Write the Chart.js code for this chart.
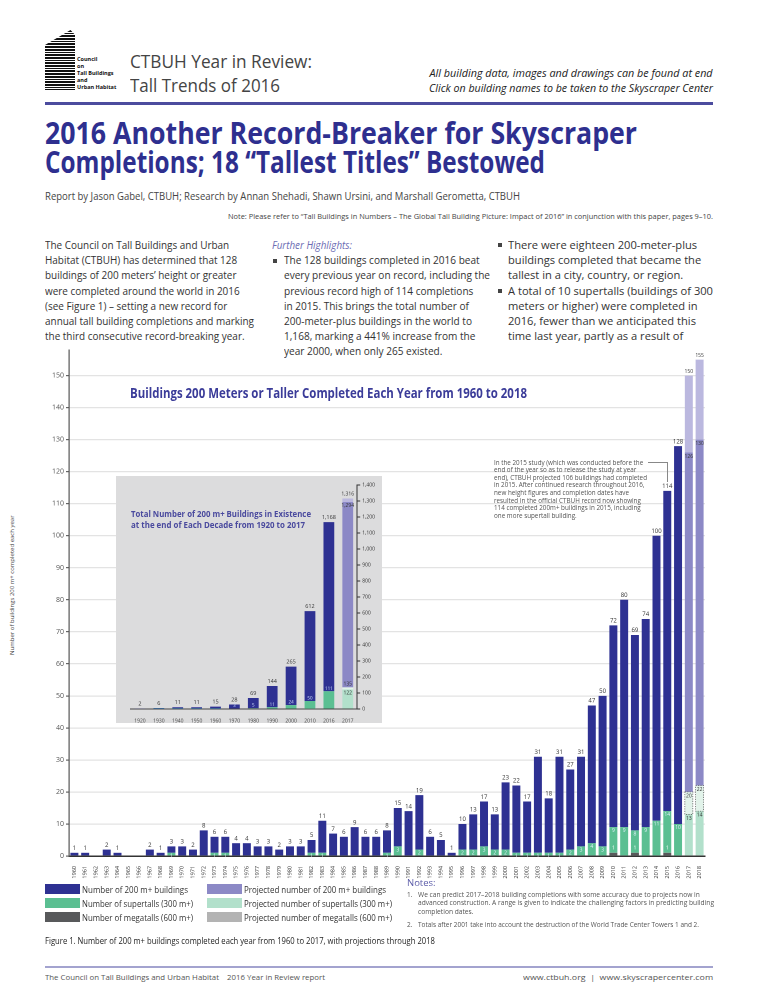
<!DOCTYPE html>
<html>
<head>
<meta charset="utf-8">
<script src="https://cdn.jsdelivr.net/npm/chart.js@4.4.1/dist/chart.umd.min.js"></script>
<style>
body { margin: 0; background: #fff; font-family: "Open Sans", sans-serif; color: #333; }
#page { position: relative; width: 773px; height: 1000px; overflow: hidden; }
.t { position: absolute; white-space: nowrap; line-height: 1; transform-origin: left center; }
.r { transform-origin: right center; }
.blk { position: absolute; white-space: nowrap; transform-origin: left top; }
.bul { position: absolute; width: 4px; height: 4px; background: #444; }
.sw { position: absolute; width: 35px; height: 10px; }
canvas { position: absolute; }
</style>
</head>
<body>
<div id="page">

  <!-- hlavicka -->
  <div id="logo" style="position:absolute;left:45px;top:30px;width:30px;height:60px;background:repeating-linear-gradient(to bottom,#111 0 1.6px,#fff 1.6px 2.7px);clip-path:polygon(0 25%,85% 0,100% 8%,100% 100%,0 100%);"></div>
  <div style="position:absolute;left:77px;top:56px;font-size:5.5px;line-height:7px;font-weight:700;color:#111;">Council<br>on<br>Tall Buildings<br>and<br>Urban Habitat</div>

  <div class="t" style="left:130px;top:52px;font-size:19px;color:#444;" data-w="182">CTBUH Year in Review:</div>
  <div class="t" style="left:130px;top:76px;font-size:19px;color:#444;" data-w="150">Tall Trends of 2016</div>

  <div class="t r" style="right:60px;top:68px;font-size:10.5px;font-style:italic;color:#222;" data-w="283">All building data, images and drawings can be found at end</div>
  <div class="t r" style="right:60px;top:83px;font-size:10.5px;font-style:italic;color:#222;" data-w="284">Click on building names to be taken to the Skyscraper Center</div>

  <div style="position:absolute;left:45px;top:102px;width:668px;height:3px;background:#4c4c9e;"></div>

  <div class="t" style="left:45px;top:117px;font-size:31px;font-weight:700;color:#2e2f8f;" data-w="592">2016 Another Record-Breaker for Skyscraper</div>
  <div class="t" style="left:45px;top:146px;font-size:31px;font-weight:700;color:#2e2f8f;" data-w="500">Completions; 18 “Tallest Titles” Bestowed</div>

  <div class="t" style="left:45px;top:191px;font-size:10px;color:#444;" data-w="475">Report by Jason Gabel, CTBUH; Research by Annan Shehadi, Shawn Ursini, and Marshall Gerometta, CTBUH</div>
  <div class="t" style="left:228px;top:213px;font-size:7.5px;color:#444;" data-w="485">Note: Please refer to “Tall Buildings in Numbers – The Global Tall Building Picture: Impact of 2016” in conjunction with this paper, pages 9–10.</div>

  <!-- sloupce textu -->
  <div class="blk" style="left:45px;top:237px;font-size:11px;line-height:15.2px;color:#333;" data-w="209">
    The Council on Tall Buildings and Urban<br>
    Habitat (CTBUH) has determined that 128<br>
    buildings of 200 meters’ height or greater<br>
    were completed around the world in 2016<br>
    (see Figure 1) – setting a new record for<br>
    annual tall building completions and marking<br>
    the third consecutive record-breaking year.
  </div>

  <div class="t" style="left:272px;top:239px;font-size:11px;font-style:italic;color:#6c6cb3;" data-w="80">Further Highlights:</div>
  <div class="bul" style="left:273px;top:259px;"></div>
  <div class="blk" style="left:284px;top:252.2px;font-size:11px;line-height:15.2px;color:#333;" data-w="206">
    The 128 buildings completed in 2016 beat<br>
    every previous year on record, including the<br>
    previous record high of 114 completions<br>
    in 2015. This brings the total number of<br>
    200-meter-plus buildings in the world to<br>
    1,168, marking a 441% increase from the<br>
    year 2000, when only 265 existed.
  </div>

  <div class="bul" style="left:498px;top:243px;"></div>
  <div class="bul" style="left:498px;top:289px;"></div>
  <div class="blk" style="left:508px;top:237px;font-size:11px;line-height:15.2px;color:#333;" data-w="205">
    There were eighteen 200-meter-plus<br>
    buildings completed that became the<br>
    tallest in a city, country, or region.<br>
    A total of 10 supertalls (buildings of 300<br>
    meters or higher) were completed in<br>
    2016, fewer than we anticipated this<br>
    time last year, partly as a result of
  </div>

  <!-- hlavni graf -->
  <canvas id="mainChart" width="690" height="546" style="left:30px;top:340px;width:690px;height:546px;"></canvas>
  <div class="t" style="left:130px;top:386px;font-size:14px;font-weight:700;color:#3b3c99;" data-w="397">Buildings 200 Meters or Taller Completed Each Year from 1960 to 2018</div>
  <div class="t" style="left:-43px;top:597px;font-size:6px;color:#444;transform:rotate(-90deg);transform-origin:center;width:110px;text-align:center;">Number of buildings 200 m+ completed each year</div>

  <!-- poznamka k roku 2015 -->
  <div class="blk" style="left:494px;top:458.5px;font-size:6.3px;line-height:7.63px;color:#555;" data-w="153">
    In the 2015 study (which was conducted before the<br>
    end of the year so as to release the study at year<br>
    end), CTBUH projected 106 buildings had completed<br>
    in 2015. After continued research throughout 2016,<br>
    new height figures and completion dates have<br>
    resulted in the official CTBUH record now showing<br>
    114 completed 200m+ buildings in 2015, including<br>
    one more supertall building.
  </div>
  <div style="position:absolute;left:648px;top:462px;width:19px;height:19px;border-top:0.8px solid #888;border-right:0.8px solid #888;"></div>

  <!-- vlozeny graf -->
  <div style="position:absolute;left:116px;top:476px;width:266px;height:247px;background:#dcdcdd;"></div>
  <canvas id="insetChart" width="266" height="247" style="left:116px;top:476px;width:266px;height:247px;"></canvas>
  <div class="t" style="left:131px;top:509px;font-size:9px;font-weight:700;color:#4a4a9e;" data-w="180">Total Number of 200 m+ Buildings in Existence</div>
  <div class="t" style="left:131px;top:519.5px;font-size:9px;font-weight:700;color:#4a4a9e;" data-w="174">at the end of Each Decade from 1920 to 2017</div>

  <!-- legenda -->
  <div class="sw" style="left:45px;top:884px;background:#2e3192;"></div>
  <div class="sw" style="left:45px;top:898px;background:#5bbf92;"></div>
  <div class="sw" style="left:45px;top:912px;background:#58595b;"></div>
  <div class="sw" style="left:207px;top:884px;background:#8c89c6;"></div>
  <div class="sw" style="left:207px;top:898px;background:#b2e0cb;"></div>
  <div class="sw" style="left:207px;top:912px;background:#b3b3b3;"></div>
  <div class="t" style="left:82px;top:884.5px;font-size:9px;color:#333;" data-w="106">Number of 200 m+ buildings</div>
  <div class="t" style="left:82px;top:898.5px;font-size:9px;color:#333;" data-w="111">Number of supertalls (300 m+)</div>
  <div class="t" style="left:82px;top:912.5px;font-size:9px;color:#333;" data-w="111">Number of megatalls (600 m+)</div>
  <div class="t" style="left:244px;top:884.5px;font-size:9px;color:#333;" data-w="142">Projected number of 200 m+ buildings</div>
  <div class="t" style="left:244px;top:898.5px;font-size:9px;color:#333;" data-w="148">Projected number of supertalls (300 m+)</div>
  <div class="t" style="left:244px;top:912.5px;font-size:9px;color:#333;" data-w="148">Projected number of megatalls (600 m+)</div>

  <div class="t" style="left:407px;top:878px;font-size:9.5px;color:#5b5ba8;">Notes:</div>
  <div class="blk" style="left:407px;top:890.6px;font-size:6.5px;line-height:8.7px;color:#555;">1.</div>
  <div class="blk" style="left:407px;top:921.3px;font-size:6.5px;line-height:8.7px;color:#555;">2.</div>
  <div class="blk" style="left:417.5px;top:890.6px;font-size:6.5px;line-height:8.7px;color:#555;" data-w="296">
    We can predict 2017–2018 building completions with some accuracy due to projects now in<br>
    advanced construction. A range is given to indicate the challenging factors in predicting building<br>
    completion dates.
  </div>
  <div class="blk" style="left:417.5px;top:921.3px;font-size:6.5px;line-height:8.7px;color:#555;" data-w="281">Totals after 2001 take into account the destruction of the World Trade Center Towers 1 and 2.</div>

  <div class="t" style="left:45px;top:936.8px;font-size:8.5px;color:#222;" data-w="390">Figure 1. Number of 200 m+ buildings completed each year from 1960 to 2017, with projections through 2018</div>

  <!-- paticka -->
  <div style="position:absolute;left:45px;top:965.5px;width:668px;height:2px;background:#a3a3cf;"></div>
  <div class="t" style="left:45px;top:973px;font-size:8px;color:#555;" data-w="280">The Council on Tall Buildings and Urban Habitat &nbsp;&nbsp; 2016 Year in Review report</div>
  <div class="t r" style="right:60px;top:973px;font-size:8px;color:#555;" data-w="190">www.ctbuh.org &nbsp;| &nbsp;www.skyscrapercenter.com</div>
</div>

<script>
// Data - pocet dokoncenych budov 200 m+ za rok
const years = ['1960','1961','1962','1963','1964','1965','1966','1967','1968','1969',
               '1970','1971','1972','1973','1974','1975','1976','1977','1978','1979',
               '1980','1981','1982','1983','1984','1985','1986','1987','1988','1989',
               '1990','1991','1992','1993','1994','1995','1996','1997','1998','1999',
               '2000','2001','2002','2003','2004','2005','2006','2007','2008','2009',
               '2010','2011','2012','2013','2014','2015','2016','2017','2018'];
const completed200 = [1,1,0,2,1,0,0,2,1,3,
                      3,2,8,6,6,4,4,3,3,2,
                      3,3,5,11,7,6,9,6,6,8,
                      15,14,19,6,5,1,10,13,17,13,
                      23,22,17,31,18,31,27,31,47,50,
                      72,80,69,74,100,114,128,null,null];
const completedSupertall = [0,0,0,0,0,0,0,0,0,1,
                            0,0,0,1,1,0,0,0,0,0,
                            0,0,1,1,0,0,0,0,0,1,
                            3,0,2,0,0,0,2,2,3,2,
                            2,1,1,1,1,1,2,3,4,3,
                            9,9,8,9,11,14,10,null,null];
const completedMegatall = [0,0,0,0,0,0,0,0,0,0,
                           0,0,0,0,0,0,0,0,0,0,
                           0,0,0,0,0,0,0,0,0,0,
                           0,0,0,0,0,0,0,0,0,0,
                           0,0,0,0,0,0,0,0,0,0,
                           1,0,1,0,0,1,0,null,null];

// Projekce 2017-2018 (rozsah)
const projYears = ['2017','2018'];
const proj200Low = [126, 130];
const proj200High = [150, 155];
const projSupertallLow = [13, 14];
const projSupertallHigh = [20, 22];

// Vlozeny graf - celkovy pocet budov na konci dekady
const decades = ['1920','1930','1940','1950','1960','1970','1980','1990','2000','2010','2016','2017'];
const existing200 = [2,6,11,11,15,28,69,144,265,612,1168,null];
const existingSupertall = [0,1,1,1,1,3,5,11,24,50,111,null];
const existingMegatall = [0,0,0,0,0,0,0,0,0,1,3,null];
const projExisting200Low = 1294;
const projExisting200High = 1316;
const projExistingSupertallLow = 122;
const projExistingSupertallHigh = 135;

const NAVY = '#2e3192', GREEN = '#5bbf92', MEGA = '#58595b';
const LAV = '#8c89c6', LAV_LIGHT = '#bbb8df', MINT = '#b2e0cb', MINT_LIGHT = '#e2f3ea';
const FONT = '"Open Sans", sans-serif';

// prizpusobeni sirky textu
document.querySelectorAll('[data-w]').forEach(el => {
    const w = el.getBoundingClientRect().width;
    const k = parseFloat(el.dataset.w) / w;
    el.style.transform = (el.style.transform || '') + ` scaleX(${k})`;
});

function fmt(v) { return v.toLocaleString('en-US'); }

// ---------- hlavni graf ----------
const n = years.length;
const megaData = [], stData = [], restData = [];
const pStLow = [], pStRange = [], pRest = [], pTop = [];
for (let i = 0; i < n; i++) {
    const p = projYears.indexOf(years[i]);
    if (p === -1) {
        megaData.push(completedMegatall[i]);
        stData.push(completedSupertall[i] - completedMegatall[i]);
        restData.push(completed200[i] - completedSupertall[i]);
        pStLow.push(null); pStRange.push(null); pRest.push(null); pTop.push(null);
    } else {
        megaData.push(null); stData.push(null); restData.push(null);
        pStLow.push(projSupertallLow[p]);
        pStRange.push(projSupertallHigh[p] - projSupertallLow[p]);
        pRest.push(proj200Low[p] - projSupertallHigh[p]);
        pTop.push(proj200High[p] - proj200Low[p]);
    }
}

const mainLabels = {
    id: 'mainLabels',
    afterDatasetsDraw(chart) {
        const ctx = chart.ctx, x = chart.scales.x, y = chart.scales.y;
        ctx.save();
        ctx.textAlign = 'center';
        // ramecek rozsahu supertall projekce
        const meta = chart.getDatasetMeta(4);
        meta.data.forEach((bar, i) => {
            if (pStRange[i] == null) return;
            ctx.setLineDash([1.2, 1.2]);
            ctx.strokeStyle = '#555';
            ctx.lineWidth = 0.7;
            ctx.strokeRect(bar.x - bar.width / 2, bar.y, bar.width, bar.base - bar.y);
            ctx.setLineDash([]);
        });
        for (let i = 0; i < n; i++) {
            const px = x.getPixelForValue(i);
            const p = projYears.indexOf(years[i]);
            if (p === -1) {
                if (completed200[i] > 0) {
                    ctx.font = '6px ' + FONT;
                    ctx.fillStyle = '#333';
                    ctx.textBaseline = 'bottom';
                    ctx.fillText(completed200[i], px, y.getPixelForValue(completed200[i]) - 1.5);
                }
                if (completedSupertall[i] > 0) {
                    ctx.font = '5px ' + FONT;
                    ctx.fillStyle = '#e8f4ff';
                    ctx.textBaseline = 'top';
                    ctx.fillText(completedSupertall[i], px, y.getPixelForValue(completedSupertall[i]) + 1);
                }
                if (completedMegatall[i] > 0) {
                    ctx.font = '5px ' + FONT;
                    ctx.fillStyle = '#ffffff';
                    ctx.textBaseline = 'bottom';
                    ctx.fillText(completedMegatall[i], px, y.getPixelForValue(completedMegatall[i]) - 2);
                }
            } else {
                ctx.font = '5px ' + FONT;
                ctx.fillStyle = '#333';
                ctx.textBaseline = 'bottom';
                ctx.fillText(proj200High[p], px, y.getPixelForValue(proj200High[p]) - 1.5);
                ctx.textBaseline = 'top';
                ctx.fillText(proj200Low[p], px, y.getPixelForValue(proj200Low[p]) + 1.5);
                ctx.fillText(projSupertallHigh[p], px, y.getPixelForValue(projSupertallHigh[p]) + 1.5);
                ctx.fillText(projSupertallLow[p], px, y.getPixelForValue(projSupertallLow[p]) + 1.5);
            }
        }
        ctx.restore();
    }
};

new Chart(document.getElementById('mainChart'), {
    type: 'bar',
    data: {
        labels: years,
        datasets: [
            { label: 'Megatall', data: megaData, backgroundColor: MEGA },
            { label: 'Supertall', data: stData, backgroundColor: GREEN },
            { label: '200 m+', data: restData, backgroundColor: NAVY },
            { label: 'Proj. supertall', data: pStLow, backgroundColor: MINT },
            { label: 'Proj. supertall range', data: pStRange, backgroundColor: MINT_LIGHT },
            { label: 'Proj. 200 m+', data: pRest, backgroundColor: LAV },
            { label: 'Proj. 200 m+ range', data: pTop, backgroundColor: LAV_LIGHT }
        ]
    },
    options: {
        responsive: false,
        animation: false,
        devicePixelRatio: 2,
        layout: { padding: { top: 10, right: 15, left: 0, bottom: 0 } },
        datasets: { bar: { categoryPercentage: 1, barPercentage: 0.74 } },
        plugins: { legend: { display: false }, tooltip: { enabled: false } },
        scales: {
            x: {
                stacked: true,
                grid: { display: false },
                border: { color: '#333', width: 1.5 },
                ticks: { font: { size: 5.5, family: FONT }, color: '#333', minRotation: 90, maxRotation: 90, autoSkip: false, padding: 2 },
                afterFit(s) { s.height = 30; }
            },
            y: {
                stacked: true,
                min: 0,
                max: 158,
                ticks: { stepSize: 10, font: { size: 7, family: FONT }, color: '#555', padding: 2 },
                grid: { color: '#e3e3e3', lineWidth: 1.2, tickLength: 3, tickColor: '#666' },
                border: { color: '#555', width: 1.2 },
                afterBuildTicks(s) { s.ticks = s.ticks.filter(t => t.value % 10 === 0); },
                afterFit(s) { s.width = 39; }
            }
        }
    },
    plugins: [mainLabels]
});

// ---------- vlozeny graf ----------
const m = decades.length;
const iMega = [], iSt = [], iRest = [], iPStLow = [], iPStRange = [], iPRest = [], iPTop = [];
for (let i = 0; i < m; i++) {
    if (existing200[i] != null) {
        iMega.push(existingMegatall[i]);
        iSt.push(existingSupertall[i] - existingMegatall[i]);
        iRest.push(existing200[i] - existingSupertall[i]);
        iPStLow.push(null); iPStRange.push(null); iPRest.push(null); iPTop.push(null);
    } else {
        iMega.push(null); iSt.push(null); iRest.push(null);
        iPStLow.push(projExistingSupertallLow);
        iPStRange.push(projExistingSupertallHigh - projExistingSupertallLow);
        iPRest.push(projExisting200Low - projExistingSupertallHigh);
        iPTop.push(projExisting200High - projExisting200Low);
    }
}

const insetLabels = {
    id: 'insetLabels',
    afterDatasetsDraw(chart) {
        const ctx = chart.ctx, x = chart.scales.x, y = chart.scales.y;
        ctx.save();
        ctx.textAlign = 'center';
        for (let i = 0; i < m; i++) {
            const px = x.getPixelForValue(i);
            if (existing200[i] != null) {
                ctx.font = '5.5px ' + FONT;
                ctx.fillStyle = '#333';
                ctx.textBaseline = 'bottom';
                ctx.fillText(fmt(existing200[i]), px, y.getPixelForValue(existing200[i]) - 2);
                if (existingSupertall[i] > 0 && i >= 5) {
                    ctx.font = '4.5px ' + FONT;
                    ctx.fillStyle = '#cfe0ff';
                    ctx.textBaseline = 'bottom';
                    ctx.fillText(existingSupertall[i], px, y.getPixelForValue(existingSupertall[i]) - 0.5);
                }
            } else {
                ctx.font = '5px ' + FONT;
                ctx.fillStyle = '#333';
                ctx.textBaseline = 'bottom';
                ctx.fillText(fmt(projExisting200High), px, y.getPixelForValue(projExisting200High) - 2);
                ctx.textBaseline = 'top';
                ctx.fillText(fmt(projExisting200Low), px, y.getPixelForValue(projExisting200Low) + 1);
                ctx.textBaseline = 'bottom';
                ctx.fillText(projExistingSupertallHigh, px, y.getPixelForValue(projExistingSupertallHigh) - 1);
                ctx.textBaseline = 'top';
                ctx.fillText(projExistingSupertallLow, px, y.getPixelForValue(projExistingSupertallLow) + 1);
            }
        }
        ctx.restore();
    }
};

new Chart(document.getElementById('insetChart'), {
    type: 'bar',
    data: {
        labels: decades,
        datasets: [
            { label: 'Megatall', data: iMega, backgroundColor: MEGA },
            { label: 'Supertall', data: iSt, backgroundColor: GREEN },
            { label: '200 m+', data: iRest, backgroundColor: NAVY },
            { label: 'Proj. supertall', data: iPStLow, backgroundColor: MINT },
            { label: 'Proj. supertall range', data: iPStRange, backgroundColor: MINT_LIGHT },
            { label: 'Proj. 200 m+', data: iPRest, backgroundColor: LAV },
            { label: 'Proj. 200 m+ range', data: iPTop, backgroundColor: LAV_LIGHT }
        ]
    },
    options: {
        responsive: false,
        animation: false,
        devicePixelRatio: 2,
        layout: { padding: { top: 9, left: 14.5, right: 0, bottom: 0 } },
        datasets: { bar: { categoryPercentage: 1, barPercentage: 0.57 } },
        plugins: { legend: { display: false }, tooltip: { enabled: false } },
        scales: {
            x: {
                stacked: true,
                grid: { display: false },
                border: { color: '#444', width: 1 },
                ticks: { font: { size: 5, family: FONT }, color: '#444', maxRotation: 0, autoSkip: false, padding: 1 },
                afterFit(s) { s.height = 14; }
            },
            y: {
                position: 'right',
                stacked: true,
                min: 0,
                max: 1400,
                ticks: { stepSize: 100, font: { size: 5, family: FONT }, color: '#333', padding: 2, callback: v => fmt(v) },
                grid: { drawOnChartArea: false, tickLength: 3, tickColor: '#333' },
                border: { color: '#333', width: 1 },
                afterFit(s) { s.width = 24.8; }
            }
        }
    },
    plugins: [insetLabels]
});
</script>
</body>
</html>
